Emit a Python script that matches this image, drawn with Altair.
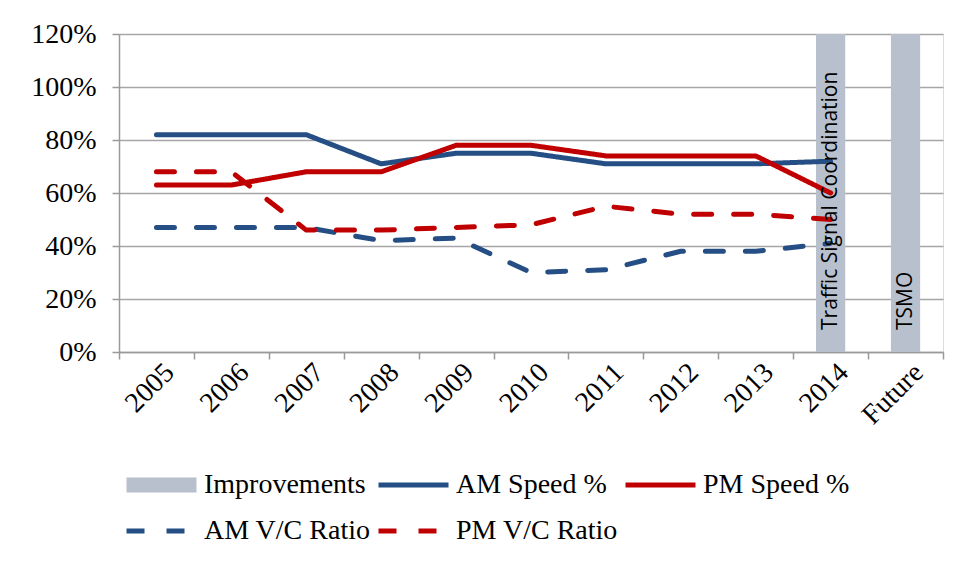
import altair as alt
import pandas as pd

categories = ["2005", "2006", "2007", "2008", "2009", "2010", "2011", "2012", "2013", "2014", "Future"]
years = ["2005", "2006", "2007", "2008", "2009", "2010", "2011", "2012", "2013", "2014"]

am_speed = [82, 82, 82, 71, 75, 75, 71, 71, 71, 72]
pm_speed = [63, 63, 68, 68, 78, 78, 74, 74, 74, 60]
am_vc = [47, 47, 47, 42, 43, 30, 31, 38, 38, 41]
pm_vc = [68, 68, 46, 46, 47, 48, 55, 52, 52, 50]

improvement_cats = ["2014", "Future"]
improvement_vals = [120, 120]
improvement_labels = ["Traffic Signal Coordination", "TSMO"]

series_names = ["Improvements", "AM Speed %", "PM Speed %", "AM V/C Ratio", "PM V/C Ratio"]
series_colors = ["#b9c0cd", "#254f84", "#c00000", "#254f84", "#c00000"]
series_dash = [[1, 0], [1, 0], [1, 0], [18, 22], [18, 22]]
series_width = [15, 5, 5, 5, 5]

rows = []
for name, vals in zip(series_names[1:], [am_speed, pm_speed, am_vc, pm_vc]):
    for c, v in zip(years, vals):
        rows.append({"cat": c, "value": v, "series": name})
lines_df = pd.DataFrame(rows)

bars_df = pd.DataFrame({
    "cat": improvement_cats,
    "value": improvement_vals,
    "label": improvement_labels,
    "series": ["Improvements"] * len(improvement_cats),
})

SERIF = "Liberation Serif"

x_scale = alt.Scale(domain=categories, paddingInner=0, paddingOuter=0)
x_enc = alt.X(
    "cat:N",
    scale=x_scale,
    axis=alt.Axis(
        title=None, labelAngle=-45, labelAlign="right", labelBaseline="middle",
        labelFont=SERIF, labelFontSize=28, labelColor="#000000", labelPadding=9,
        tickBand="extent", tickSize=7, tickColor="#9a9a9a", tickWidth=1.5,
        domainColor="#9a9a9a", domainWidth=1.5, grid=False, labelOffset=13,
    ),
)
y_scale = alt.Scale(domain=[0, 120], nice=False)
y_axis = alt.Axis(
    title=None, values=[0, 20, 40, 60, 80, 100, 120],
    labelExpr="datum.value + '%'", labelFont=SERIF, labelFontSize=28,
    labelColor="#000000", labelPadding=16, tickSize=7, tickColor="#9a9a9a",
    tickWidth=1.5, domainColor="#9a9a9a", domainWidth=1.5,
    gridColor="#a6a6a6", gridWidth=1.5,
)

color_enc = alt.Color(
    "series:N",
    scale=alt.Scale(domain=series_names, range=series_colors),
    legend=alt.Legend(
        title=None, orient="bottom", direction="horizontal", columns=3,
        symbolType="M-1,0H9.77", symbolSize=169, labelFont=SERIF, labelFontSize=28,
        labelColor="#000000", labelLimit=400, rowPadding=18, columnPadding=-6,
        labelOffset=57, offset=41, clipHeight=28,
    ),
)
dash_enc = alt.StrokeDash(
    "series:N", scale=alt.Scale(domain=series_names, range=series_dash), legend=None
)
width_enc = alt.StrokeWidth(
    "series:N",
    scale=alt.Scale(type="ordinal", domain=series_names, range=series_width),
    legend=None,
)

bars = alt.Chart(bars_df).mark_bar(width=alt.RelativeBandSize(0.39)).encode(
    x=x_enc,
    y=alt.Y("value:Q", scale=y_scale, axis=y_axis),
    color=color_enc,
)

bar_text = alt.Chart(bars_df).mark_text(
    angle=270, align="left", baseline="middle", font="Open Sans", fontSize=21,
    color="#000000", dx=22,
).encode(
    x=alt.X("cat:N", scale=x_scale),
    y=alt.Y("base:Q", scale=y_scale),
    text="label:N",
).transform_calculate(base="0")

lines = alt.Chart(lines_df).mark_line(strokeCap="round", strokeJoin="round").encode(
    x=x_enc,
    y=alt.Y("value:Q", scale=y_scale, axis=y_axis),
    color=color_enc,
    strokeDash=dash_enc,
    strokeWidth=width_enc,
)

chart = alt.layer(bars, lines, bar_text).properties(
    width=824, height=318,
    padding={"left": 22, "top": 12, "right": 5, "bottom": 5},
).configure_view(stroke=None).configure(background="#ffffff")

chart.save("out.html", embed_options={"renderer": "svg", "actions": False})
